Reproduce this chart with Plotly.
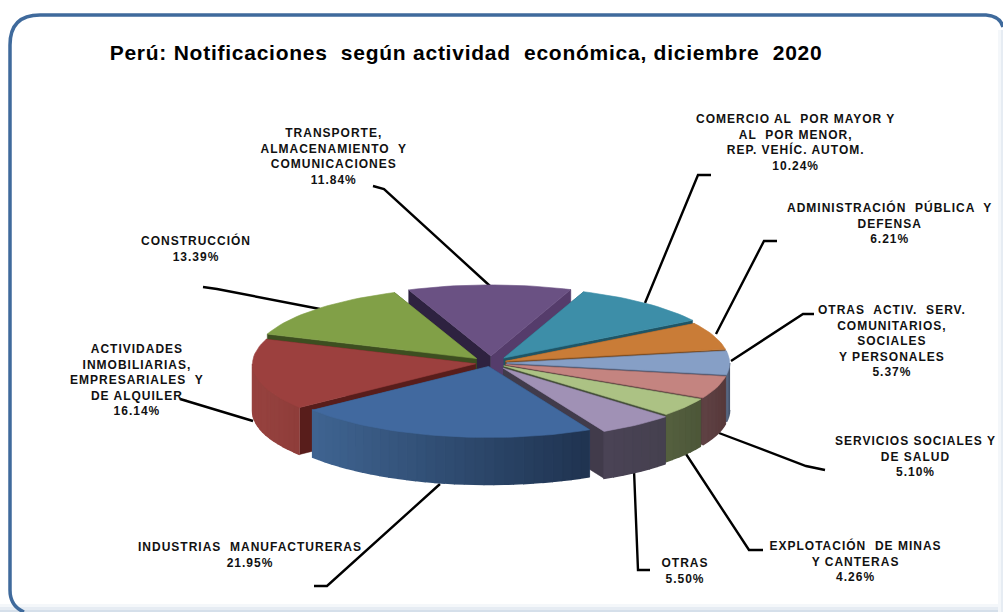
import math
import plotly.graph_objects as go

# ---- data ----
categories = ["COMERCIO AL  POR MAYOR Y<br>AL  POR MENOR,<br>REP. VEHÍC. AUTOM.",
              "ADMINISTRACIÓN  PÚBLICA  Y<br>DEFENSA",
              "OTRAS  ACTIV.  SERV.<br>COMUNITARIOS,<br>SOCIALES<br>Y PERSONALES",
              "SERVICIOS SOCIALES Y<br>DE SALUD",
              "EXPLOTACIÓN  DE MINAS<br>Y CANTERAS",
              "OTRAS",
              "INDUSTRIAS  MANUFACTURERAS",
              "ACTIVIDADES<br>INMOBILIARIAS,<br>EMPRESARIALES  Y<br>DE ALQUILER",
              "CONSTRUCCIÓN",
              "TRANSPORTE,<br>ALMACENAMIENTO  Y<br>COMUNICACIONES"]
values = [10.24, 6.21, 5.37, 5.10, 4.26, 5.50, 21.95, 16.14, 13.39, 11.84]
title_text = "Perú: Notificaciones  según actividad  económica, diciembre  2020"

# ---- styles / geometry ----
top_colors = ["#3D8EA8", "#C97C37", "#869FC6", "#C48480", "#ACC284", "#A091B5", "#41699F", "#9C403E", "#81A047", "#6A5183"]
wall_left = ["#2F6E82", "#9A5F2A", "#5E6F8A", "#5F4244", "#55603F", "#4A4356", "#3F6491", "#97423F", "#5F7535", "#4E3B60"]
wall_right = ["#1F4F5F", "#7A4B20", "#46536A", "#57393B", "#4C5638", "#45404F", "#1F3350", "#8E3D3A", "#4E6030", "#3E2E4E"]
radial_wall = ["#1F5566", "#7A4B20", "#4A5670", "#5A3D3F", "#45503A", "#413B4B", "#2A4568", "#581D1B", "#3D4E20", "#553C6B"]
side_wall2 = ["#205060", "#7A4B20", "#4A5670", "#5A3D3F", "#45503A", "#413B4B", "#2A4568", "#581D1B", "#3D4E20", "#2E2240"]
explode = [0.09, 0.07, 0.07, 0.07, 0.07, 0.09, 0.05, 0.07, 0.09, 0.10]
START = 21.0
CX, CY, RX, RY, DEPTH = 491.0, 363.0, 223.0, 71.0, 47.0
label_xy = [(795, 142), (889, 223), (892, 341), (915, 456), (855, 561), (685, 571), (250, 555), (137, 380), (196, 248), (334, 156)]
leaders = [[(711, 175), (698, 175), (645, 303)],
           [(777, 241), (764, 241), (716, 334)],
           [(814, 314), (803, 314), (731, 361)],
           [(825, 470), (806, 466), (719, 433)],
           [(763, 550), (749, 550), (686, 454)],
           [(650, 570), (638, 570), (634, 470)],
           [(314, 586), (327, 586), (440, 484)],
           [(187, 401), (180, 399), (253, 421)],
           [(203, 287), (217, 289), (320, 309)],
           [(373, 186), (384, 189), (490, 286)]]

fig = go.Figure()

def poly(pts, fill, width=1.0):
    fig.add_trace(go.Scatter(x=[p[0] for p in pts], y=[p[1] for p in pts], mode="lines",
                             fill="toself", fillcolor=fill,
                             line=dict(color=fill, width=width),
                             hoverinfo="skip", showlegend=False))

def mix(c1, c2, t):
    a = [int(c1[i:i + 2], 16) for i in (1, 3, 5)]
    b = [int(c2[i:i + 2], 16) for i in (1, 3, 5)]
    return "#%02x%02x%02x" % tuple(round(a[i] + (b[i] - a[i]) * t) for i in range(3))

for L in leaders:
    fig.add_trace(go.Scatter(x=[p[0] for p in L], y=[p[1] for p in L], mode="lines",
                             line=dict(color="#000000", width=2.4), hoverinfo="skip", showlegend=False))

total = sum(values)
slices = []
a = START
for i, v in enumerate(values):
    b = a + v / total * 360.0
    slices.append((i, a, b))
    a = b

def pt(c, th, dz=0.0):
    r = math.radians(th)
    return (c[0] + RX * math.sin(r), c[1] - RY * math.cos(r) + dz)

order = sorted(slices, key=lambda s: -math.cos(math.radians((s[1] + s[2]) / 2)))
for i, a, b in order:
    mid = math.radians((a + b) / 2)
    e = explode[i]
    c = (CX + e * RX * math.sin(mid), CY - e * RY * math.cos(mid))
    for th, col in ((a, side_wall2[i]), (b, radial_wall[i])):
        p = pt(c, th)
        poly([c, p, (p[0], p[1] + DEPTH), (c[0], c[1] + DEPTH)], col, 0.5)
    lo, hi = max(a, 90.0), min(b, 270.0)
    if hi > lo:
        n = max(2, int((hi - lo) / 2.5))
        for k in range(n):
            t0 = lo + (hi - lo) * k / n
            t1 = lo + (hi - lo) * (k + 1) / n
            tt = (math.sin(math.radians((t0 + t1) / 2)) - math.sin(math.radians(hi))) / (
                (math.sin(math.radians(lo)) - math.sin(math.radians(hi))) or 1)
            col = mix(wall_left[i], wall_right[i], tt)
            steps = [t0 + (t1 - t0) * q / 3 for q in range(4)]
            poly([pt(c, s) for s in steps] + [pt(c, s, DEPTH) for s in reversed(steps)], col, 1.6)
    m = max(8, int((b - a) / 2))
    poly([c] + [pt(c, a + (b - a) * q / m) for q in range(m + 1)] + [c], top_colors[i], 0.6)

for (i, cat), (x, y) in zip(enumerate(categories), label_xy):
    fig.add_annotation(x=x, y=y, xref="x", yref="y", showarrow=False, align="center",
                       text=f"{cat}<br>{values[i]:.2f}%",
                       font=dict(family="Liberation Sans", size=12, color="#111111", weight="bold"))
fig.add_annotation(x=466, y=52, xref="x", yref="y", showarrow=False,
                   text=title_text, font=dict(family="Liberation Sans", size=21, color="#000000", weight="bold"))

border = "M 1003 27 Q 1000 16 986 15 L 40 15 Q 10 15 10 45 L 10 590 Q 10 606 24 612"
haze = [dict(type="rect", x0=0, x1=1003, y0=y0, y1=612, xref="x", yref="y", layer="below",
             line=dict(width=0), fillcolor=col)
        for y0, col in ((604, "#F4F7FA"), (607, "#E6ECF3"), (610, "#D5DFEA"))]
haze += [dict(type="rect", x0=x0, x1=1003, y0=30, y1=612, xref="x", yref="y", layer="below",
              line=dict(width=0), fillcolor=col)
         for x0, col in ((998, "#F4F7FA"), (1001, "#E6ECF3"))]
fig.update_layout(
    width=1003, height=612, margin=dict(l=0, r=0, t=0, b=0),
    paper_bgcolor="white", plot_bgcolor="white", showlegend=False,
    xaxis=dict(range=[0, 1003], visible=False, fixedrange=True),
    yaxis=dict(range=[612, 0], visible=False, fixedrange=True),
    shapes=haze + [dict(type="path", path=border, xref="x", yref="y", layer="below",
                        line=dict(color="#3F6A9C", width=3.5))],
)
post = """
document.body.style.margin='0';
document.body.style.overflow='hidden';
var ts=document.querySelectorAll('.annotation-text');
ts.forEach(function(t){ t.style.letterSpacing = t.textContent.indexOf('Notificaciones')>=0 ? '0.75px' : '1px'; });
"""
fig.write_html("out.html", config=dict(displayModeBar=False), post_script=post)
